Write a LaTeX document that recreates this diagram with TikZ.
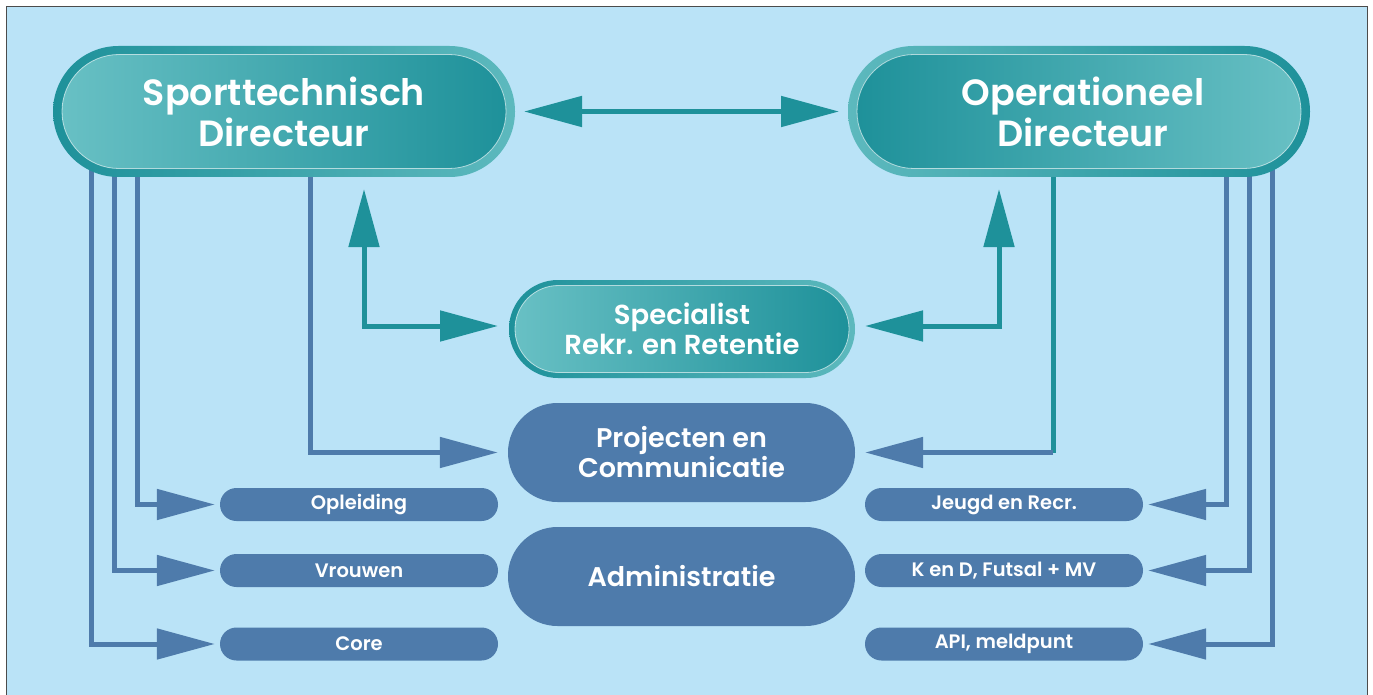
\documentclass[tikz,border=0pt]{standalone}
\usepackage{fontspec}
\setmainfont{Poppins}[UprightFont=* SemiBold, BoldFont=* Bold]
\usepackage{xcolor}
\usepackage{tikz}
\usetikzlibrary{shapes,arrows.meta,positioning}

\definecolor{backblue}{RGB}{186,227,247}
\definecolor{tealdark}{RGB}{30,145,154}
\definecolor{teallight}{RGB}{104,192,196}
\definecolor{unitblue}{RGB}{78,123,171}

\pgfdeclarelayer{links}
\pgfsetlayers{links,main}

\begin{document}
\begin{tikzpicture}[
    x=1pt, y=-1pt,
    >={Triangle[length=58pt, width=30pt]},
    ringlr/.style={rounded rectangle, inner sep=0pt, outer sep=0pt, left color=tealdark, right color=teallight!85!tealdark},
    ringrl/.style={rounded rectangle, inner sep=0pt, outer sep=0pt, left color=teallight!85!tealdark, right color=tealdark},
    facelr/.style={rounded rectangle, inner sep=0pt, left color=teallight, right color=tealdark, draw=white, draw opacity=0.6, line width=0.8pt, text=white, align=center},
    facerl/.style={rounded rectangle, inner sep=0pt, left color=tealdark, right color=teallight, draw=white, draw opacity=0.6, line width=0.8pt, text=white, align=center},
    director/.style={minimum width=444pt, minimum height=114pt, font=\fontsize{36.5pt}{41pt}\selectfont},
    office/.style={rounded rectangle, inner sep=0pt, fill=unitblue, text=white, align=center, minimum width=347pt, minimum height=99pt, font=\fontsize{27pt}{30pt}\selectfont},
    unit/.style={rounded rectangle, inner sep=0pt, fill=unitblue, text=white, minimum width=278pt, minimum height=33pt, font=\fontsize{19.5pt}{22pt}\selectfont},
    link/.style={draw=tealdark, line width=5pt},
    unitlink/.style={draw=unitblue, line width=5pt}
]
\useasboundingbox (0,0) rectangle (1373,695);

% Directors
\node [ringlr, minimum width=462pt, minimum height=131pt] (sporttechring) at (284,111.5) {};
\node [facelr, director] (sporttech) at (284,111.5) {Sporttechnisch\\Directeur};
\node [ringrl, minimum width=462pt, minimum height=131pt] (operationring) at (1079,111.5) {};
\node [facerl, director] (operation) at (1079,111.5) {\hspace*{8pt}Operationeel\\\hspace*{8pt}Directeur};

% Specialist
\node [ringlr, minimum width=346pt, minimum height=98pt] (specialistring) at (682,329) {};
\node [facelr, minimum width=334pt, minimum height=87pt, font=\fontsize{27.5pt}{30pt}\selectfont] (specialist) at (682,329) {Specialist\\Rekr. en Retentie};

% Staff
\node [office] (projects) at (681.5,452.5) {Projecten en\\Communicatie};
\node [office] (admin) at (681.5,576.5) {Administratie};

% Units left
\node [unit] (training) at (359,504.5) {Opleiding};
\node [unit] (women) at (359,570.5) {Vrouwen};
\node [unit] (core) at (359,644) {Core};

% Units right
\node [unit] (youth) at (1004,504.5) {Jeugd en Recr.};
\node [unit] (futsal) at (1004,570.5) {K en D, Futsal + MV};
\node [unit] (api) at (1004,644) {API, meldpunt};

\begin{pgfonlayer}{links}
% Backdrop
\draw [draw=black!70, fill=backblue, line width=1pt] (6,7) rectangle (1367,702);

% Arrows - between directors and specialist
\draw [link, <->, shorten <=9pt, shorten >=9pt] (sporttechring.east) -- (operationring.west);
\draw [link, <->, shorten <=12pt, shorten >=11pt] (364,0 |- sporttechring.south) |- ([yshift=3pt]specialistring.west);
\draw [link, <->, shorten <=12pt, shorten >=10pt] (999,0 |- operationring.south) |- ([yshift=3pt]specialistring.east);

% Arrows - directors to projects
\draw [unitlink, ->, shorten >=10pt] (310,0 |- sporttechring.center) |- (projects.west);
\draw [link] (1053,0 |- operationring.center) -- (1053,0 |- projects.east);
\draw [unitlink, ->, shorten >=10pt] (1053,0 |- projects.east) -- (projects.east);

% Arrows - directors to units
\draw [unitlink, ->, shorten >=5pt] (137,0 |- sporttechring.center) |- (training.west);
\draw [unitlink, ->, shorten >=5pt] (114,0 |- sporttechring.center) |- (women.west);
\draw [unitlink, ->, shorten >=5pt] (91,0 |- sporttechring.center) |- (core.west);
\draw [unitlink, ->, shorten >=5pt] (1226,0 |- operationring.center) |- (youth.east);
\draw [unitlink, ->, shorten >=5pt] (1249,0 |- operationring.center) |- (futsal.east);
\draw [unitlink, ->, shorten >=5pt] (1272,0 |- operationring.center) |- (api.east);
\end{pgfonlayer}

\end{tikzpicture}
\end{document}
